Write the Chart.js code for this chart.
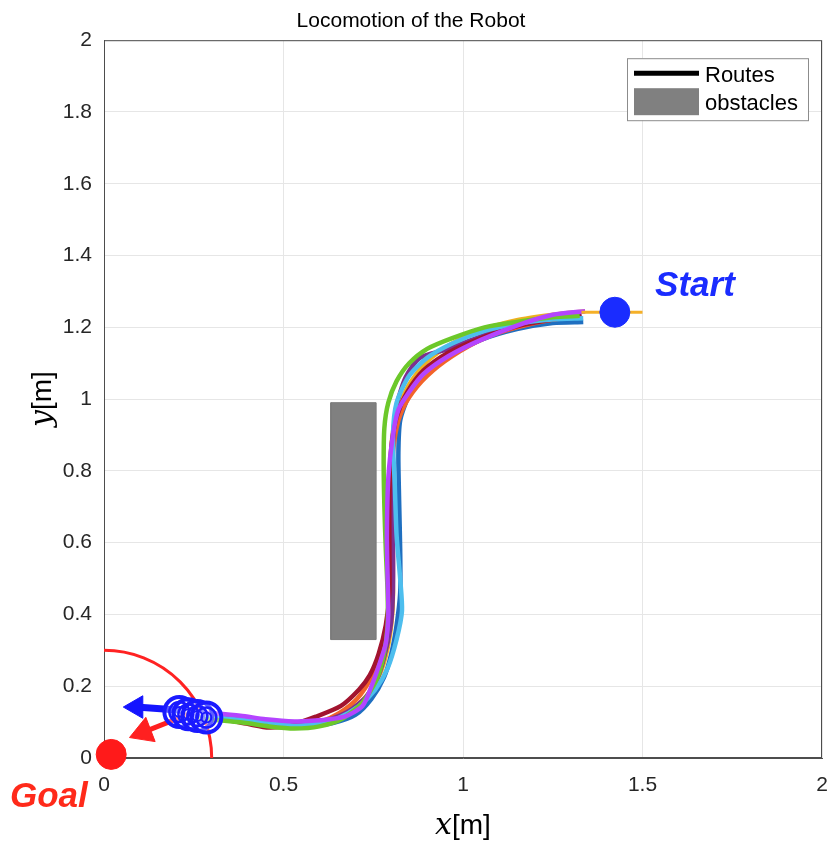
<!DOCTYPE html>
<html>
<head>
<meta charset="utf-8">
<script src="https://cdn.jsdelivr.net/npm/chart.js@4.4.1/dist/chart.umd.min.js"></script>
<style>
	html, body { margin: 0; padding: 0; background: #fff; }
</style>
</head>
<body>
<canvas id="myChart" width="830" height="843"></canvas>
<script>
// Axis ticks
const xTicks = [0, 0.5, 1, 1.5, 2];
const xTickLabels = ["0", "0.5", "1", "1.5", "2"];
const yTicks = [0, 0.2, 0.4, 0.6, 0.8, 1, 1.2, 1.4, 1.6, 1.8, 2];
const yTickLabels = ["0", "0.2", "0.4", "0.6", "0.8", "1", "1.2", "1.4", "1.6", "1.8", "2"];

// Routes (start on the right, goal bottom left)
const routeBlue = [[1.335,1.215],[1.25,1.212],[1.15,1.195],[1.05,1.165],[0.96,1.12],[0.895,1.07],[0.85,1.01],[0.825,0.94],[0.82,0.85],[0.822,0.72],[0.825,0.58],[0.825,0.46],[0.815,0.37],[0.8,0.29],[0.78,0.225],[0.745,0.165],[0.7,0.12],[0.64,0.098],[0.58,0.09],[0.52,0.09],[0.45,0.1],[0.38,0.108],[0.3,0.115],[0.25,0.118]];
const routeOrange = [[1.33,1.23],[1.25,1.222],[1.15,1.2],[1.06,1.17],[0.97,1.12],[0.9,1.065],[0.85,1.005],[0.82,0.94],[0.805,0.85],[0.8,0.72],[0.8,0.58],[0.8,0.46],[0.79,0.37],[0.77,0.29],[0.745,0.225],[0.705,0.165],[0.655,0.125],[0.6,0.1],[0.54,0.09],[0.47,0.095],[0.4,0.105],[0.33,0.115],[0.26,0.12]];
const routeYellow = [[1.34,1.245],[1.25,1.235],[1.15,1.22],[1.06,1.195],[0.97,1.155],[0.9,1.105],[0.85,1.04],[0.815,0.96],[0.8,0.86],[0.798,0.72],[0.8,0.58],[0.805,0.46],[0.8,0.37],[0.785,0.285],[0.76,0.215],[0.72,0.16],[0.665,0.12],[0.6,0.1],[0.53,0.09],[0.46,0.095],[0.39,0.105],[0.32,0.115],[0.26,0.12]];
const routePurple = [[1.33,1.235],[1.25,1.225],[1.15,1.205],[1.05,1.175],[0.96,1.14],[0.88,1.115],[0.84,1.06],[0.815,0.98],[0.805,0.88],[0.802,0.74],[0.805,0.6],[0.805,0.47],[0.8,0.38],[0.785,0.3],[0.765,0.23],[0.73,0.17],[0.68,0.13],[0.62,0.105],[0.56,0.092],[0.5,0.09],[0.43,0.098],[0.36,0.108],[0.29,0.115],[0.25,0.118]];
const routeGreen = [[1.325,1.232],[1.25,1.228],[1.15,1.215],[1.06,1.2],[0.97,1.17],[0.9,1.14],[0.85,1.1],[0.815,1.05],[0.792,0.99],[0.781,0.92],[0.779,0.82],[0.781,0.7],[0.785,0.58],[0.79,0.46],[0.79,0.37],[0.78,0.29],[0.76,0.22],[0.72,0.155],[0.665,0.11],[0.6,0.088],[0.53,0.082],[0.46,0.088],[0.39,0.098],[0.32,0.105],[0.26,0.11]];
const routeLightBlue = [[1.335,1.225],[1.25,1.222],[1.15,1.21],[1.06,1.19],[0.97,1.155],[0.9,1.115],[0.85,1.065],[0.815,0.99],[0.805,0.9],[0.81,0.76],[0.815,0.62],[0.825,0.5],[0.83,0.41],[0.815,0.33],[0.79,0.25],[0.755,0.19],[0.71,0.145],[0.65,0.11],[0.59,0.095],[0.53,0.09],[0.46,0.098],[0.39,0.105],[0.32,0.112],[0.26,0.118]];
const routeDarkRed = [[1.33,1.23],[1.25,1.222],[1.15,1.203],[1.05,1.17],[0.96,1.13],[0.89,1.08],[0.845,1.02],[0.815,0.95],[0.8,0.86],[0.795,0.72],[0.795,0.58],[0.795,0.46],[0.785,0.37],[0.765,0.29],[0.74,0.23],[0.71,0.19],[0.66,0.145],[0.59,0.115],[0.52,0.092],[0.46,0.085],[0.4,0.095],[0.33,0.108],[0.27,0.115]];
const routeViolet = [[1.34,1.245],[1.25,1.235],[1.15,1.205],[1.05,1.165],[0.96,1.12],[0.89,1.07],[0.85,1.02],[0.82,0.97],[0.805,0.9],[0.792,0.78],[0.788,0.62],[0.79,0.5],[0.792,0.4],[0.785,0.32],[0.77,0.27],[0.745,0.2],[0.72,0.145],[0.67,0.115],[0.6,0.105],[0.53,0.102],[0.45,0.108],[0.38,0.118],[0.3,0.125],[0.23,0.13]];

// Obstacle corners
const obstacle = [[0.632,0.33],[0.758,0.33],[0.758,0.99],[0.632,0.99],[0.632,0.33]];

// Start / goal
const startPoint = [1.423, 1.242];
const startHeading = [[1.33,1.242],[1.5,1.242]];
const goalPoint = [0.02, 0.01];
const goalArcCenter = [0, 0];
const goalArcRadius = 0.3;

// Robot poses at the end of the runs
const robotX = [0.21, 0.235, 0.26, 0.285];
const robotY = [0.128, 0.122, 0.117, 0.113];
const blueArrow = [[0.215,0.133],[0.09,0.142]];
const redArrow = [[0.235,0.122],[0.11,0.072]];

const pts = (arr) => arr.map(([x, y]) => ({ x: x, y: y }));

const route = (arr, color) => ({
	data: pts(arr),
	showLine: true,
	borderColor: color,
	borderWidth: 4.5,
	pointRadius: 0,
	tension: 0.25,
	fill: false,
});

const robots = robotX.map((x, i) => ({ x: x, y: robotY[i] }));

// bottom -> top
const layers = [
	{
		data: pts(obstacle),
		showLine: true,
		fill: "shape",
		backgroundColor: "#808080",
		borderColor: "#7a7a7a",
		borderWidth: 1,
		pointRadius: 0,
		tension: 0,
	},
	route(routeBlue, "#1f6fc0"),
	route(routeOrange, "#f2642a"),
	route(routeYellow, "#edb120"),
	route(routePurple, "#7e2f8e"),
	route(routeDarkRed, "#a2142f"),
	route(routeLightBlue, "#4dbeee"),
	route(routeGreen, "#6cc82a"),
	route(routeViolet, "#b444ff"),
	{
		data: pts(startHeading),
		showLine: true,
		borderColor: "#f5b028",
		borderWidth: 3,
		pointRadius: 0,
	},
	{
		data: pts(redArrow),
		showLine: true,
		borderColor: "#ff2020",
		backgroundColor: "#ff2020",
		borderWidth: 5,
		pointRadius: [0, 15],
		pointStyle: "triangle",
		pointRotation: 249,
		pointBorderWidth: 1,
	},
	{
		data: pts(blueArrow),
		showLine: true,
		borderColor: "#1414ff",
		backgroundColor: "#1414ff",
		borderWidth: 7,
		pointRadius: [0, 13],
		pointStyle: "triangle",
		pointRotation: 270,
		pointBorderWidth: 1,
	},
	{
		data: robots,
		pointRadius: 15,
		pointBorderWidth: 4,
		borderColor: "#1a1aff",
		backgroundColor: "rgba(255,255,255,0.3)",
	},
	{
		data: robots,
		pointRadius: 10,
		pointBorderWidth: 2.5,
		borderColor: "#1a1aff",
		backgroundColor: "rgba(0,0,0,0)",
	},
	{
		data: robots,
		pointRadius: 5,
		pointBorderWidth: 2,
		borderColor: "#1a1aff",
		backgroundColor: "rgba(0,0,0,0)",
	},
	{
		data: pts([startPoint]),
		pointRadius: 15,
		backgroundColor: "#1a2cff",
		borderColor: "#1a2cff",
	},
	{
		data: pts([goalPoint]),
		pointRadius: 15,
		backgroundColor: "#ff1a1a",
		borderColor: "#ff1a1a",
		clip: false,
	},
];
layers.forEach((d, i) => (d.order = layers.length - i));

const overlay = {
	id: "overlay",
	beforeDatasetsDraw(chart) {
		const { ctx, chartArea: a, scales } = chart;
		const x = scales.x, y = scales.y;
		// plot box
		ctx.save();
		ctx.strokeStyle = "#4d4d4d";
		ctx.lineWidth = 1;
		ctx.strokeRect(a.left + 0.5, a.top + 0.5, a.width - 1, a.height - 1);
		// goal radius
		const cx = x.getPixelForValue(goalArcCenter[0]);
		const cy = y.getPixelForValue(goalArcCenter[1]);
		const r = x.getPixelForValue(goalArcCenter[0] + goalArcRadius) - cx;
		ctx.strokeStyle = "#ff2222";
		ctx.lineWidth = 3;
		ctx.beginPath();
		ctx.arc(cx, cy, r, -Math.PI / 2, 0);
		ctx.stroke();
		ctx.restore();
	},
	afterDraw(chart) {
		const { ctx, chartArea: a, scales } = chart;
		const x = scales.x, y = scales.y;
		ctx.save();

		// Start / Goal labels
		ctx.font = "bold italic 35px 'Liberation Sans'";
		ctx.textAlign = "left";
		ctx.textBaseline = "alphabetic";
		ctx.fillStyle = "#1a2cff";
		ctx.fillText("Start", x.getPixelForValue(1.535), y.getPixelForValue(1.287));
		ctx.fillStyle = "#ff2a1a";
		ctx.fillText("Goal", x.getPixelForValue(-0.262), y.getPixelForValue(-0.136));

		// legend
		const lx = a.right - 195, ly = a.top + 18;
		ctx.fillStyle = "#fff";
		ctx.fillRect(lx, ly, 181, 62);
		ctx.strokeStyle = "#8c8c8c";
		ctx.lineWidth = 1;
		ctx.strokeRect(lx + 0.5, ly + 0.5, 181, 62);
		ctx.strokeStyle = "#000";
		ctx.lineWidth = 5;
		ctx.beginPath();
		ctx.moveTo(lx + 7, ly + 15);
		ctx.lineTo(lx + 72, ly + 15);
		ctx.stroke();
		ctx.fillStyle = "#808080";
		ctx.fillRect(lx + 7, ly + 30, 65, 27);
		ctx.fillStyle = "#000";
		ctx.font = "22px 'Liberation Sans'";
		ctx.fillText("Routes", lx + 78, ly + 24);
		ctx.fillText("obstacles", lx + 78, ly + 52);

		// axis titles
		const xc = (a.left + a.right) / 2;
		ctx.fillStyle = "#000";
		ctx.textAlign = "left";
		ctx.font = "italic 30px 'DejaVu Serif'";
		const w1 = ctx.measureText("x").width;
		ctx.font = "28px 'Liberation Sans'";
		const w2 = ctx.measureText("[m]").width;
		let sx = xc - (w1 + w2) / 2;
		ctx.font = "italic 30px 'DejaVu Serif'";
		ctx.fillText("x", sx, 834);
		ctx.font = "28px 'Liberation Sans'";
		ctx.fillText("[m]", sx + w1, 834);

		ctx.translate(51, (a.top + a.bottom) / 2);
		ctx.rotate(-Math.PI / 2);
		ctx.font = "italic 30px 'DejaVu Serif'";
		const w3 = ctx.measureText("y").width;
		sx = -(w3 + w2) / 2;
		ctx.fillText("y", sx, 0);
		ctx.font = "28px 'Liberation Sans'";
		ctx.fillText("[m]", sx + w3, 0);
		ctx.restore();
	},
};

const tickFont = { family: "'Liberation Sans'", size: 21 };

const config = {
	type: "scatter",
	data: { datasets: layers },
	options: {
		responsive: false,
		animation: false,
		events: [],
		layout: { autoPadding: false, padding: { left: 0, right: 8, top: 0, bottom: 0 } },
		plugins: {
			legend: { display: false },
			tooltip: { enabled: false },
			title: {
				display: true,
				text: "Locomotion of the Robot",
				color: "#000",
				font: { family: "'Liberation Sans'", size: 21, weight: "normal" },
				padding: { top: 9, bottom: 6 },
			},
		},
		scales: {
			x: {
				type: "linear",
				min: 0,
				max: 2,
				afterBuildTicks: (axis) => {
					axis.ticks = xTicks.map((v) => ({ value: v }));
				},
				afterFit: (axis) => {
					axis.height = 85;
				},
				ticks: {
					padding: 0,
					color: "#262626",
					font: tickFont,
					maxRotation: 0,
					callback: (v, i) => xTickLabels[i],
				},
				grid: {
					color: "#e6e6e6",
					lineWidth: 1,
					drawTicks: true,
					tickLength: 15,
					tickColor: "rgba(0,0,0,0)",
				},
				border: { color: "#4d4d4d" },
			},
			y: {
				type: "linear",
				min: 0,
				max: 2,
				afterBuildTicks: (axis) => {
					axis.ticks = yTicks.map((v) => ({ value: v }));
				},
				afterFit: (axis) => {
					axis.width = 104;
				},
				ticks: {
					padding: 12,
					color: "#262626",
					font: tickFont,
					callback: (v, i) => yTickLabels[i],
				},
				grid: { color: "#e6e6e6", lineWidth: 1, drawTicks: false },
				border: { color: "#4d4d4d" },
			},
		},
	},
	plugins: [overlay],
};

var myChart = new Chart(document.getElementById("myChart"), config);
</script>
</body>
</html>
